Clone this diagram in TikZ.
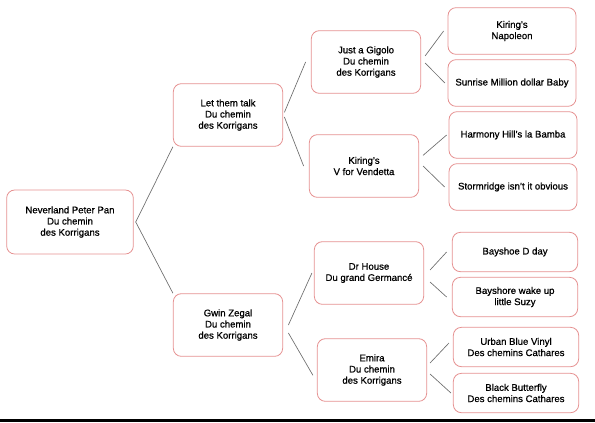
\documentclass[tikz,border=0pt]{standalone}
\usepackage{fontspec}
\setmainfont{Liberation Sans}[FakeBold=0.8]
\usepackage{xcolor}
\usetikzlibrary{positioning,calc}

\definecolor{boxline}{RGB}{230,145,145}
\definecolor{linkgray}{RGB}{110,110,110}

\begin{document}
\begin{tikzpicture}[
    x=0.75pt,
    y=-0.75pt,
    font=\fontsize{7.2}{8.4}\selectfont,
    horse/.style={
        draw=boxline,
        rounded corners=6pt,
        line width=0.6pt,
        fill=white,
        align=center,
        inner sep=0pt
    },
    root/.style={horse, minimum width=95pt, minimum height=48pt},
    sire/.style={horse, minimum width=82pt, minimum height=47pt},
    gsire/.style={horse, minimum width=96pt, minimum height=35pt},
    gdam/.style={horse, minimum width=94pt, minimum height=29.5pt},
    link/.style={draw=linkgray, line width=0.5pt}
]
\useasboundingbox (0,0) rectangle (595,422);

% generation 0
\node[root] (peter) at (70,222) {Neverland Peter Pan\\Du chemin\\des Korrigans};

% generation 1
\node[sire] (talk) at (228,115) {Let them talk\\Du chemin\\des Korrigans};
\node[sire] (gwin) at (228,325) {Gwin Zegal\\Du chemin\\des Korrigans};

% generation 2
\node[sire] (gigolo) at (366,62) {Just a Gigolo\\Du chemin\\des Korrigans};
\node[sire] (vendetta) at (364,166) {Kiring's\\V for Vendetta};
\node[sire] (house) at (369,273) {Dr House\\Du grand Germancé};
\node[sire] (emira) at (372,370) {Emira\\Du chemin\\des Korrigans};

% generation 3
\node[gsire] (napoleon) at (512,31) {Kiring's\\Napoleon};
\node[gsire] (sunrise) at (512,83) {Sunrise Million dollar Baby};
\node[gsire] (harmony) at (513,135) {Harmony Hill's la Bamba};
\node[gsire] (storm) at (513,187) {Stormridge isn't it obvious};
\node[gdam] (dday) at (515,252) {Bayshoe D day};
\node[gdam] (suzy) at (515,297) {Bayshore wake up\\little Suzy};
\node[gdam] (urban) at (516,347) {Urban Blue Vinyl\\Des chemins Cathares};
\node[gdam] (butterfly) at (516,393) {Black Butterfly\\Des chemins Cathares};

% links
\draw[link] ([xshift=1.5pt]peter.east) -- (talk.south west);
\draw[link] ([xshift=1.5pt]peter.east) -- (gwin.north west);

\draw[link] ([xshift=1pt,yshift=2pt]talk.east) -- ([xshift=-4pt]gigolo.west);
\draw[link] ([xshift=1pt,yshift=-1.5pt]talk.east) -- ([xshift=-4pt]vendetta.west);
\draw[link] ([xshift=4pt]gwin.east) -- ([xshift=-1.5pt]house.west);
\draw[link] ([xshift=4pt,yshift=-6pt]gwin.east) -- ([xshift=-3pt,yshift=-4pt]emira.west);

\draw[link] ([xshift=3pt,yshift=4.5pt]gigolo.east) -- ([xshift=-3pt]napoleon.west);
\draw[link] ([xshift=3pt,yshift=-0.75pt]gigolo.east) -- ([xshift=-2pt]sunrise.west);
\draw[link] ([xshift=3pt,yshift=8pt]vendetta.east) -- ([xshift=-1.5pt]harmony.west);
\draw[link] ([xshift=3pt]vendetta.east) -- ([xshift=-3pt]storm.west);
\draw[link] ([xshift=4.5pt,yshift=2.25pt]house.east) -- ([xshift=-4pt]dday.west);
\draw[link] ([xshift=4.5pt,yshift=-6.75pt]house.east) -- ([xshift=-4pt]suzy.west);
\draw[link] ([xshift=2.25pt,yshift=5.25pt]emira.east) -- ([xshift=-3pt,yshift=3pt]urban.west);
\draw[link] ([xshift=2.25pt,yshift=-3pt]emira.east) -- ([xshift=-1.5pt]butterfly.west);

% bottom rule
\fill[black] (0,419) rectangle (595,422);
\end{tikzpicture}
\end{document}
